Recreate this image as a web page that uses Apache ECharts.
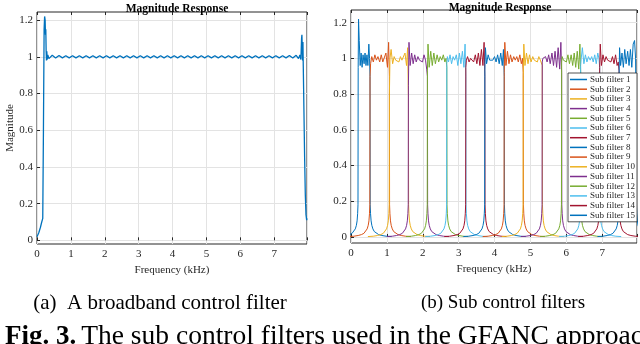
<!DOCTYPE html>
<html>
<head>
<meta charset="utf-8">
<script src="https://cdn.jsdelivr.net/npm/echarts@6/dist/echarts.min.js"></script>
<style>
  html, body { margin: 0; padding: 0; background: #fff; }
  #main { width: 640px; height: 344px; }
</style>
</head>
<body>
<div id="main"></div>
<script>
// broadband control filter (a)
let leftFreq = [0, 0.05, 0.1, 0.14, 0.17, 0.19, 0.21, 0.225, 0.24, 0.25, 0.26, 0.27, 0.28, 0.29, 0.3, 0.32,
  0.35, 0.45, 0.55, 0.65, 0.75, 0.85, 0.95, 1.05, 1.15, 1.25, 1.35, 1.45, 1.55, 1.65, 1.75, 1.85, 1.95,
  2.05, 2.15, 2.25, 2.35, 2.45, 2.55, 2.65, 2.75, 2.85, 2.95, 3.05, 3.15, 3.25, 3.35, 3.45, 3.55, 3.65,
  3.75, 3.85, 3.95, 4.05, 4.15, 4.25, 4.35, 4.45, 4.55, 4.65, 4.75, 4.85, 4.95, 5.05, 5.15, 5.25, 5.35,
  5.45, 5.55, 5.65, 5.75, 5.85, 5.95, 6.05, 6.15, 6.25, 6.35, 6.45, 6.55, 6.65, 6.75, 6.85, 6.95, 7.05,
  7.15, 7.25, 7.35, 7.45, 7.55, 7.65, 7.72, 7.76, 7.79, 7.81, 7.82, 7.83, 7.84, 7.85, 7.86, 7.88, 7.9,
  7.92, 7.94, 7.96, 7.97];
let leftMag = [0.02, 0.04, 0.07, 0.1, 0.12, 0.6, 1.15, 1.22, 1.2, 1.12, 1.15, 1.03, 0.98, 1.03, 0.985, 1.01,
  0.99, 1.008, 0.993, 1.007, 0.994, 1.006, 0.994, 1.006, 0.994, 1.006, 0.994, 1.006, 0.994, 1.006, 0.994, 1.006, 0.994,
  1.006, 0.994, 1.006, 0.994, 1.006, 0.994, 1.006, 0.994, 1.006, 0.994, 1.006, 0.994, 1.006, 0.994, 1.006, 0.994, 1.006,
  0.994, 1.006, 0.994, 1.006, 0.994, 1.006, 0.994, 1.006, 0.994, 1.006, 0.994, 1.006, 0.994, 1.006, 0.994, 1.006, 0.994,
  1.006, 0.994, 1.006, 0.994, 1.006, 0.994, 1.006, 0.994, 1.006, 0.994, 1.006, 0.994, 1.006, 0.994, 1.006, 0.994, 1.006,
  0.994, 1.006, 0.994, 1.007, 0.993, 1.008, 0.99, 1.01, 0.985, 1.1, 1.12, 1.05, 0.98, 1.08, 0.95, 0.7, 0.45,
  0.25, 0.14, 0.11, 0.12];

// sub control filters (b)
let subNames = ['Sub filter 1', 'Sub filter 2', 'Sub filter 3', 'Sub filter 4', 'Sub filter 5',
  'Sub filter 6', 'Sub filter 7', 'Sub filter 8', 'Sub filter 9', 'Sub filter 10',
  'Sub filter 11', 'Sub filter 12', 'Sub filter 13', 'Sub filter 14', 'Sub filter 15'];
let bandLo = [0.2, 0.53, 1.07, 1.6, 2.13, 2.67, 3.2, 3.73, 4.27, 4.8, 5.33, 5.87, 6.4, 6.93, 7.47];
let bandHi = [0.53, 1.07, 1.6, 2.13, 2.67, 3.2, 3.73, 4.27, 4.8, 5.33, 5.87, 6.4, 6.93, 7.47, 7.95];
// position inside the pass band, 0 = lower edge, 1 = upper edge
let passPos = [0, 0.03, 0.09, 0.17, 0.25, 0.33, 0.41, 0.5, 0.58, 0.66, 0.74, 0.82, 0.9, 0.96, 1];
let passMag = [
  [0.95, 1.22, 1.1, 0.96, 1.03, 0.95, 1.02, 0.97, 1.03, 0.96, 1.02, 0.96, 1.08, 1.0, 0.9],
  [0.9, 0.97, 1.01, 0.98, 1.02, 0.99, 1.01, 0.98, 1.02, 0.98, 0.97, 1.03, 0.95, 1.09, 0.9],
  [0.8, 1.0, 1.05, 0.97, 1.01, 0.99, 1.0, 0.98, 1.01, 0.99, 1.0, 1.03, 0.96, 1.06, 0.78],
  [0.85, 1.09, 0.96, 1.03, 0.97, 1.02, 0.98, 1.01, 0.99, 1.0, 0.98, 1.02, 0.99, 0.94, 0.9],
  [0.93, 1.08, 0.95, 1.04, 0.96, 1.03, 0.97, 1.02, 0.98, 1.01, 0.99, 1.02, 0.98, 1.0, 0.95],
  [0.97, 1.01, 0.98, 1.02, 0.97, 1.01, 0.99, 1.02, 0.96, 1.03, 0.97, 1.04, 0.95, 1.08, 0.9],
  [0.95, 0.99, 1.01, 0.98, 1.0, 1.01, 0.98, 1.02, 0.97, 1.03, 0.96, 1.05, 0.96, 1.09, 0.9],
  [0.93, 1.06, 0.97, 1.02, 0.99, 1.0, 0.99, 1.01, 0.98, 1.02, 0.97, 1.03, 0.96, 1.05, 0.9],
  [0.92, 1.09, 0.96, 1.04, 0.97, 1.02, 0.98, 1.01, 0.99, 1.01, 0.98, 1.02, 0.97, 1.0, 0.92],
  [0.9, 1.08, 0.96, 1.03, 0.97, 1.02, 0.98, 1.01, 0.99, 1.0, 0.98, 1.01, 0.99, 0.98, 0.96],
  [0.98, 1.0, 0.99, 1.01, 0.98, 1.02, 0.97, 1.03, 0.96, 1.04, 0.95, 1.06, 0.94, 1.09, 0.92],
  [0.98, 1.01, 0.99, 1.0, 0.98, 1.02, 0.97, 1.02, 0.96, 1.03, 0.95, 1.04, 0.94, 1.08, 0.92],
  [0.96, 1.0, 1.06, 0.97, 1.02, 0.98, 1.01, 0.99, 1.01, 0.98, 1.02, 0.97, 1.03, 1.0, 0.95],
  [0.95, 1.08, 0.96, 1.02, 0.98, 1.01, 0.99, 1.0, 0.98, 1.01, 0.97, 1.02, 0.96, 0.98, 0.93],
  [0.9, 1.06, 0.96, 1.03, 0.95, 1.05, 0.97, 1.04, 0.96, 1.05, 0.95, 1.08, 1.1, 1.0, 0.5]
];
// stop band skirt, distance from the band edge (kHz) and magnitude
let skirtDist = [0.6, 0.45, 0.33, 0.24, 0.17, 0.12, 0.08, 0.05, 0.03, 0.015, 0.005];
let skirtMag = [0.002, 0.004, 0.008, 0.013, 0.02, 0.03, 0.045, 0.065, 0.09, 0.13, 0.18];

let yTicks = [0, 0.2, 0.4, 0.6, 0.8, 1, 1.2];
let matlabColors = ['#0072BD', '#D95319', '#EDB120', '#7E2F8E', '#77AC30', '#4DBEEE', '#A2142F'];

let serif = 'Liberation Serif';
let txt = '#262626';

let chart = echarts.init(document.getElementById('main'));

function subData(i) {
  let pts = [];
  for (let k = 0; k < skirtDist.length; k++) pts.push([bandLo[i] - skirtDist[k], skirtMag[k]]);
  for (let k = 0; k < passPos.length; k++) {
    pts.push([bandLo[i] + passPos[k] * (bandHi[i] - bandLo[i]), passMag[i][k]]);
  }
  for (let k = skirtDist.length - 1; k >= 0; k--) pts.push([bandHi[i] + skirtDist[k], skirtMag[k]]);
  return pts;
}

function xAx(idx, maxV) {
  return [{
    type: 'value', gridIndex: idx, min: 0, max: maxV, interval: 1,
    name: 'Frequency (kHz)', nameLocation: 'middle', nameGap: 17,
    nameTextStyle: { fontFamily: serif, fontSize: 11, color: txt },
    axisLine: { show: false },
    axisTick: { inside: true, length: 3, lineStyle: { color: txt } },
    axisLabel: { fontFamily: serif, fontSize: 11, color: txt, margin: 5,
      formatter: v => (v > 7.5 ? '' : v) },
    splitLine: { show: true, lineStyle: { color: '#e3e3e3', width: 1 } }
  }, {
    type: 'value', gridIndex: idx, position: 'top', min: 0, max: maxV, interval: 1,
    axisLine: { show: false },
    axisTick: { inside: true, length: 3, lineStyle: { color: txt } },
    axisLabel: { show: false }, splitLine: { show: false }
  }];
}

function yAx(idx, minV, maxV, name) {
  return {
    type: 'value', gridIndex: idx, min: minV, max: maxV,
    name: name, nameLocation: 'middle', nameGap: 19,
    nameTextStyle: { fontFamily: serif, fontSize: 11, color: txt },
    axisLine: { show: false },
    axisTick: { inside: true, length: 3, customValues: yTicks, lineStyle: { color: txt } },
    axisLabel: { fontFamily: serif, fontSize: 11, color: txt, margin: 4, customValues: yTicks },
    splitLine: { show: true, lineStyle: { color: '#e3e3e3', width: 1 } }
  };
}

let series = [{
  type: 'line', xAxisIndex: 0, yAxisIndex: 0, showSymbol: false, animation: false,
  data: leftFreq.map((f, k) => [f, leftMag[k]]),
  lineStyle: { color: '#0072BD', width: 1.3 }, itemStyle: { color: '#0072BD' }
}];
subNames.forEach((n, i) => {
  let c = matlabColors[i % 7];
  series.push({
    name: n, type: 'line', xAxisIndex: 2, yAxisIndex: 1, showSymbol: false, animation: false,
    data: subData(i), lineStyle: { color: c, width: 1 }, itemStyle: { color: c }
  });
});

let option = {
  backgroundColor: '#fff',
  animation: false,
  title: [
    { text: 'Magnitude Response', left: 172, top: -2, textAlign: 'center',
      textStyle: { fontFamily: serif, fontSize: 11.5, fontWeight: 'bold', color: '#000' } },
    { text: 'Magnitude Response', left: 495, top: -3, textAlign: 'center',
      textStyle: { fontFamily: serif, fontSize: 11.5, fontWeight: 'bold', color: '#000' } },
    { text: '(a)  A broadband control filter', left: 155, top: 288, textAlign: 'center',
      textStyle: { fontFamily: serif, fontSize: 21, fontWeight: 'normal', color: '#000' } },
    { text: '(b) Sub control filters', left: 498, top: 289, textAlign: 'center',
      textStyle: { fontFamily: serif, fontSize: 19, fontWeight: 'normal', color: '#000' } },
    { text: '{b|Fig. 3.} {n|The sub control filters used in the GFANC approach}', left: 0, top: 318,
      textStyle: { rich: {
        b: { fontFamily: serif, fontSize: 27, fontWeight: 'bold', color: '#000' },
        n: { fontFamily: serif, fontSize: 27.5, fontWeight: 'normal', color: '#000' } } } }
  ],
  legend: {
    data: subNames, orient: 'vertical', right: 3, top: 73,
    icon: 'rect', itemWidth: 17, itemHeight: 1.5, itemGap: 0.7,
    backgroundColor: '#fff', borderColor: '#262626', borderWidth: 0.8, borderRadius: 0,
    padding: [2, 2, 2, 2],
    textStyle: { fontFamily: serif, fontSize: 9, lineHeight: 9, color: txt, padding: [0, 0, 0, -2] }
  },
  grid: [
    { left: 37, top: 12, width: 270, height: 232, show: true, borderColor: '#262626', borderWidth: 1, backgroundColor: 'transparent' },
    { left: 351, top: 10, width: 286, height: 233, show: true, borderColor: '#262626', borderWidth: 1, backgroundColor: 'transparent' }
  ],
  xAxis: xAx(0, 7.97).concat(xAx(1, 7.97)),
  yAxis: [yAx(0, -0.02, 1.244, 'Magnitude'), yAx(1, -0.034, 1.271, '')],
  series: series
};

chart.setOption(option);
</script>
</body>
</html>
